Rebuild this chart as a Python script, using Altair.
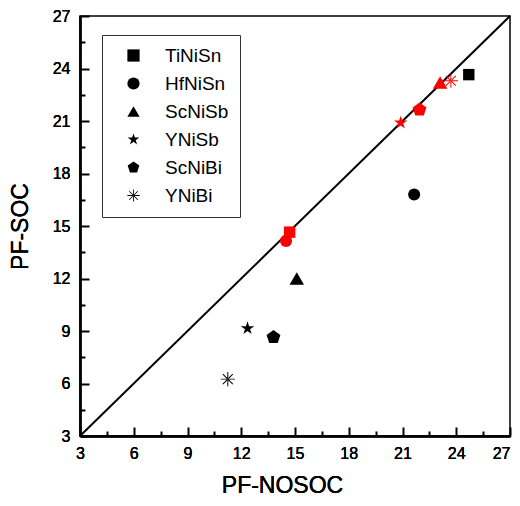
import altair as alt
import pandas as pd

# ---- data ----
compounds = ["TiNiSn", "HfNiSn", "ScNiSb", "YNiSb", "ScNiBi", "YNiBi"]
# black symbols
black_x = [24.7, 21.65, 15.1, 12.35, 13.8, 11.25]
black_y = [23.65, 16.8, 12.0, 9.15, 8.65, 6.25]
# red symbols
red_x = [14.7, 14.5, 23.1, 20.9, 21.95, 23.7]
red_y = [14.65, 14.15, 23.2, 20.9, 21.65, 23.3]
# diagonal y = x
diag = [3, 27]
major_ticks = [3, 6, 9, 12, 15, 18, 21, 24, 27]
minor_ticks = [4.5, 7.5, 10.5, 13.5, 16.5, 19.5, 22.5, 25.5]

STAR = ("M0,-1L0.2234,-0.3074L0.9511,-0.309L0.3614,0.1174L0.5878,0.809L0,0.38"
        "L-0.5878,0.809L-0.3614,0.1174L-0.9511,-0.309L-0.2234,-0.3074Z")
PENT = "M0,-1L0.9511,-0.309L0.5878,0.809L-0.5878,0.809L-0.9511,-0.309Z"
AST = ("M-1,-0.07L1,-0.07L1,0.07L-1,0.07Z"
       "M-0.07,-1L0.07,-1L0.07,1L-0.07,1Z"
       "M-0.65,-0.75L0.75,0.65L0.65,0.75L-0.75,-0.65Z"
       "M-0.65,0.75L0.75,-0.65L0.65,-0.75L-0.75,0.65Z")
shape_range = ["square", "circle", "triangle-up", STAR, PENT, AST]
size_range = [130, 145, 210, 200, 210, 200]

W, H = 430, 420
FONT = "Liberation Sans"

df_black = pd.DataFrame({"compound": compounds, "x": black_x, "y": black_y,
                         "sz": size_range})
df_red = pd.DataFrame({"compound": compounds, "x": red_x, "y": red_y,
                       "sym": shape_range, "sz": size_range})
df_diag = pd.DataFrame({"x": diag, "y": diag})
df_xt = pd.DataFrame({"x": diag})
df_yt = pd.DataFrame({"y": diag})

xscale = alt.Scale(domain=[3, 27], nice=False, zero=False)
yscale = alt.Scale(domain=[3, 27], nice=False, zero=False)

xaxis = alt.Axis(orient="bottom", values=major_ticks, ticks=False, grid=False,
                 domain=True, domainColor="black", domainWidth=2,
                 labelFontSize=16, labelPadding=9, labelFlush=False,
                 labelOverlap=False, labelColor="black",
                 labelAlign=alt.condition("datum.value >= 27", alt.value("right"), alt.value("center")),
                 title="PF-NOSOC", titleFontSize=23,
                 titleFontWeight="normal", titleColor="black",
                 titleX=202, titleY=56, titleBaseline="alphabetic")
yaxis = alt.Axis(orient="left", values=major_ticks, ticks=False, grid=False,
                 domain=True, domainColor="black", domainWidth=2,
                 labelFontSize=16, labelPadding=10, labelFlush=False,
                 labelOverlap=False, labelColor="black", title="PF-SOC",
                 titleFontSize=23, titleFontWeight="normal", titleColor="black",
                 titleX=-53, titleY=H / 2, titleAngle=-90,
                 titleBaseline="alphabetic")


def tick_axis(orient, values, length):
    # inward ticks only: no labels, no domain line
    return alt.Axis(orient=orient, values=values, ticks=True,
                    tickSize={"expr": str(-length)}, tickWidth=2,
                    tickColor="black", labels=False, domain=False,
                    grid=False, title=None)


X = alt.X("x:Q", scale=xscale, axis=xaxis)
Y = alt.Y("y:Q", scale=yscale, axis=yaxis)

diag_layer = alt.Chart(df_diag).mark_line(color="black", strokeWidth=2).encode(x=X, y=Y)

legend = alt.Legend(title=None, orient="none", legendX=22, legendY=19,
                    strokeColor="#333333", padding=11, labelFont=FONT,
                    labelFontSize=19, labelColor="black", labelOffset=22,
                    symbolOffset=11, rowPadding=8, symbolSize=150,
                    symbolFillColor="black", symbolStrokeColor="black",
                    symbolStrokeWidth=0, fillColor="white")

black_layer = alt.Chart(df_black).mark_point(filled=True, opacity=1).encode(
    x=X, y=Y,
    shape=alt.Shape("compound:N", scale=alt.Scale(domain=compounds, range=shape_range),
                    legend=legend),
    size=alt.Size("sz:Q", scale=None),
    fill=alt.value("black"))

red_layer = alt.Chart(df_red).mark_point(filled=True, opacity=1).encode(
    x=X, y=Y,
    shape=alt.Shape("sym:N", scale=None),
    size=alt.Size("sz:Q", scale=None),
    fill=alt.value("#ff0000"))

# invisible layers that only carry the inward tick axes
xt_major = alt.Chart(df_xt).mark_point(opacity=0).encode(
    x=alt.X("x:Q", scale=xscale, axis=tick_axis("bottom", major_ticks, 9)))
xt_minor = alt.Chart(df_xt).mark_point(opacity=0).encode(
    x=alt.X("x:Q", scale=xscale, axis=tick_axis("bottom", minor_ticks, 5)))
yt_major = alt.Chart(df_yt).mark_point(opacity=0).encode(
    y=alt.Y("y:Q", scale=yscale, axis=tick_axis("left", major_ticks, 9)))
yt_minor = alt.Chart(df_yt).mark_point(opacity=0).encode(
    y=alt.Y("y:Q", scale=yscale, axis=tick_axis("left", minor_ticks, 5)))

chart = alt.layer(diag_layer, black_layer, red_layer,
                  xt_major, xt_minor, yt_major, yt_minor).resolve_axis(
    x="independent", y="independent").properties(
    width=W, height=H,
    padding={"left": 72, "top": 8, "right": 2, "bottom": 62},
    autosize=alt.AutoSizeParams(type="none"),
    background="white",
).configure_view(stroke="black", strokeWidth=1.5).configure_axis(
    labelFont=FONT, titleFont=FONT)

chart.save("out.html", embed_options={"renderer": "svg", "actions": False})
